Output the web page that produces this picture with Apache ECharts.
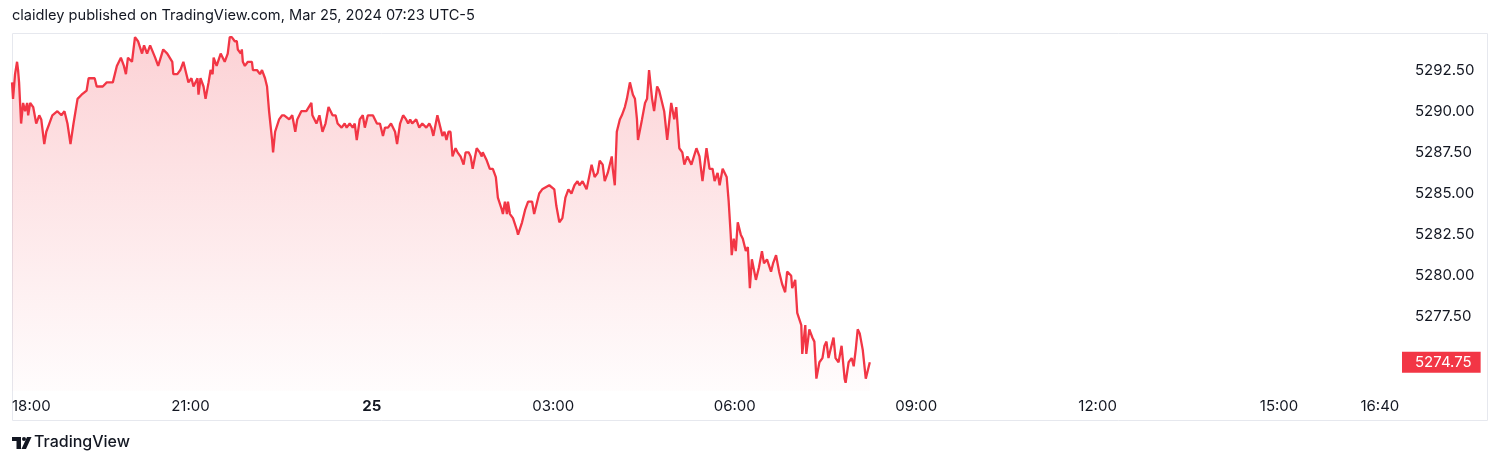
<!DOCTYPE html>
<html>
<head>
<meta charset="utf-8">
<script src="https://cdn.jsdelivr.net/npm/echarts@6/dist/echarts.min.js"></script>
<style>
html,body{margin:0;padding:0;background:#fff;}
#chart{width:1500px;height:465px;}
</style>
</head>
<body>
<div id="chart"></div>
<script>
// minutes after 18:00 (session open, UTC-5)
const minutes = [
  3,4,6,8,9,10,11,12,14,16,
  18,19,21,24,25,27,30,32,35,37,
  40,43,48,52,55,58,61,64,68,72,
  77,79,85,87,90,93,97,103,107,111,
  114,116,118,122,125,128,132,134,137,140,
  145,148,153,157,162,163,167,170,173,176,
  178,181,183,187,188,190,193,195,198,200,
  202,203,206,210,214,217,219,221,224,226,
  227,230,231,232,234,237,241,242,246,249,
  251,254,256,258,261,262,264,268,271,273,
  278,281,284,286,290,295,300,301,305,308,
  311,314,317,321,324,326,330,333,335,338,
  341,343,345,348,351,353,356,361,365,368,
  370,371,373,376,379,383,385,388,391,394,
  396,398,400,404,407,410,414,417,419,421,
  425,428,430,432,434,436,438,440,443,445,
  448,451,453,456,458,460,464,467,469,470,
  474,477,480,483,485,489,490,492,494,495,
  497,500,504,505,509,512,515,519,521,524,
  526,529,536,541,543,546,549,552,555,558,
  561,564,566,569,573,578,581,584,586,589,
  591,594,598,599,601,603,606,608,611,613,
  616,619,621,623,624,628,631,633,635,638,
  640,643,645,647,650,653,657,660,662,665,
  668,670,673,677,682,685,688,692,695,698,
  700,703,705,708,712,714,716,717,719,721,
  723,726,728,731,733,735,737,741,744,747,
  749,752,756,758,761,764,767,770,772,776,
  777,780,782,786,787,790,791,794,797,799,
  801,802,804,807,809,811,813,815,818,820,
  823,826,829,830,833,836,838,840,842,844,
  847,850,851,854
];
const prices = [
  5291.75,5290.75,5292.25,5293,5292.5,5291.75,5290.5,5289.25,5290.5,5290,
  5290.5,5289.75,5290.5,5290.25,5290.25,5289.25,5289.75,5289.5,5288,5288.75,
  5289.25,5289.75,5290,5289.75,5290,5289.25,5288,5289.25,5290.75,5291,
  5291.25,5292,5292,5291.5,5291.5,5291.5,5291.75,5291.75,5292.75,5293.25,
  5292.75,5292.25,5293.25,5293,5294.5,5294.25,5293.5,5294,5293.5,5294,
  5293.25,5292.75,5293.75,5293.5,5293,5292.25,5292.25,5292.5,5293,5292.25,
  5291.75,5292,5291.5,5292,5291,5292,5291.5,5290.75,5291.75,5292.5,
  5292.25,5293.25,5292.75,5293.5,5293,5293.5,5294.5,5294.5,5294.25,5294.25,
  5293.75,5293.5,5293.75,5293,5292.75,5293,5293,5292.5,5292.5,5292.25,
  5292.5,5292,5291.5,5290,5288.25,5287.5,5288.75,5289.5,5289.75,5289.75,
  5289.5,5289.75,5288.75,5289.5,5290,5290,5290.5,5289.75,5289.25,5289.75,
  5288.75,5289.25,5290.25,5289.75,5289.75,5289.25,5289,5289.25,5289,5289.25,
  5289,5289.25,5288.25,5289.5,5289.75,5289,5289.75,5289.75,5289.25,5289.25,
  5288.75,5288.5,5289,5289,5289.25,5288.75,5288,5289.25,5289.75,5289.5,
  5289.25,5289.5,5289.25,5289.5,5289,5289.25,5289,5289.25,5289,5288.5,
  5289.75,5289,5288.5,5288.75,5288.25,5288.75,5288.75,5287.25,5287.75,5287.5,
  5287.25,5286.75,5287.5,5287.5,5287.25,5286.5,5287.75,5287.5,5287.25,5287.5,
  5287,5286.5,5286.5,5286,5284.75,5284,5283.75,5284.5,5283.75,5284.5,
  5283.75,5283.5,5282.75,5282.5,5283.25,5284,5284.5,5284.5,5283.75,5284.5,
  5285,5285.25,5285.5,5285.25,5284.25,5283.25,5283.5,5284.75,5285.25,5285,
  5285.5,5285.75,5285.5,5285.75,5285.25,5286.75,5286,5286.25,5287,5286.75,
  5285.75,5286.25,5287.25,5286.5,5285.5,5288.75,5289.5,5289.75,5290.25,5290.75,
  5291.75,5291,5290.75,5289.5,5288.25,5289.5,5290.5,5290.75,5292.5,5290.75,
  5290,5291.5,5291.25,5290.75,5290,5288.25,5290.5,5289.5,5290.25,5287.75,
  5287.5,5286.75,5287.25,5286.75,5287.75,5287.25,5285.75,5287.75,5286.5,5286.5,
  5285.75,5286.25,5285.5,5286.5,5286,5284.5,5282.5,5281.25,5282.25,5281.5,
  5283.25,5282.5,5282.25,5281.5,5281.75,5279.25,5281,5279.75,5280.5,5281.5,
  5280.75,5281,5280.25,5280.75,5281.25,5280.25,5279.5,5279,5280.25,5280,
  5279.25,5279.75,5277.75,5277,5275.25,5277,5275.25,5276.75,5276.25,5276,
  5273.75,5273.75,5274.75,5275,5275.75,5276,5275,5275.5,5276.25,5275,
  5274.75,5275.75,5273.75,5273.5,5274.75,5275,5274.5,5275.5,5276.75,5276.5,
  5275.5,5273.75,5273.75,5274.75
];
// time-axis ticks (minutes after 18:00) and their labels
const timeTicks = [0,180,360,540,720,900,1080,1260,1360];
const timeLabels = ['18:00','21:00','25','03:00','06:00','09:00','12:00','15:00','16:40'];
// price-axis ticks
const priceTicks = [5277.5,5280,5282.5,5285,5287.5,5290,5292.5];

const X_MAX = 1380;
const lastPrice = prices[prices.length - 1];
const seriesData = minutes.map((m, i) => [m, prices[i]]);
const RED = '#f23645';
const TXT = '#131722';
const FONT = 'Inter, "Noto Sans", sans-serif';

const chart = echarts.init(document.getElementById('chart'), null, {renderer: 'canvas'});
chart.setOption({
  animation: false,
  backgroundColor: '#ffffff',
  textStyle: {fontFamily: FONT},
  grid: {left: 9, right: 100, top: 33, bottom: 74, containLabel: false},
  xAxis: {
    type: 'value',
    min: 0,
    max: X_MAX,
    axisLine: {show: false},
    axisTick: {show: false},
    splitLine: {show: false},
    axisLabel: {
      customValues: timeTicks,
      alignMinLabel: 'left',
      margin: 8,
      color: TXT,
      fontSize: 15,
      fontFamily: FONT,
      formatter: function (v) {
        const i = timeTicks.indexOf(v);
        const t = i >= 0 ? timeLabels[i] : '';
        if (t === '25') return '{b|25}';
        if (i === 0) return '{f|' + t + '}';
        return t;
      },
      rich: {
        b: {fontWeight: 'bold', fontSize: 15, color: TXT, fontFamily: FONT},
        f: {fontSize: 15, color: TXT, fontFamily: FONT, padding: [0, 0, 0, 3]}
      }
    }
  },
  yAxis: {
    type: 'value',
    position: 'right',
    min: 5273,
    max: 5294.75,
    scale: true,
    axisLine: {show: false},
    axisTick: {show: false},
    splitLine: {show: false},
    axisLabel: {
      customValues: priceTicks,
      margin: 15,
      color: TXT,
      fontSize: 15,
      fontFamily: FONT,
      padding: [3, 0, 0, 0],
      formatter: v => v.toFixed(2)
    }
  },
  series: [{
    type: 'line',
    data: seriesData,
    showSymbol: false,
    symbol: 'none',
    smooth: false,
    lineStyle: {color: RED, width: 2.3},
    areaStyle: {
      color: new echarts.graphic.LinearGradient(0, 0, 0, 1, [
        {offset: 0, color: 'rgba(242,54,69,0.32)'},
        {offset: 1, color: 'rgba(242,54,69,0.02)'}
      ])
    }
  }, {
    // last-price tag on the price scale
    type: 'scatter',
    data: [[X_MAX, lastPrice]],
    symbolSize: 0,
    silent: true,
    clip: false,
    itemStyle: {opacity: 1, color: RED},
    label: {
      show: true,
      opacity: 1,
      position: 'right',
      distance: 2,
      formatter: () => lastPrice.toFixed(2),
      backgroundColor: RED,
      color: '#ffffff',
      fontSize: 15,
      fontFamily: FONT,
      lineHeight: 15,
      padding: [3, 9, 3, 13]
    }
  }],
  graphic: [
    {
      type: 'rect', silent: true, z: -1,
      shape: {x: 12.5, y: 33.5, width: 1475, height: 387},
      style: {fill: 'none', stroke: '#e6e8ee', lineWidth: 1}
    },
    {
      type: 'text', left: 12, top: 8,
      style: {text: 'claidley published on TradingView.com, Mar 25, 2024 07:23 UTC-5',
              fill: TXT, font: '14.6px ' + FONT}
    },
    {
      type: 'group', left: 12, top: 437,
      children: [
        {type: 'rect', shape: {x: 0, y: 0, width: 9, height: 4}, style: {fill: TXT}},
        {type: 'rect', shape: {x: 4.5, y: 0, width: 4.5, height: 12}, style: {fill: TXT}},
        {type: 'circle', shape: {cx: 12, cy: 2, r: 2}, style: {fill: TXT}},
        {type: 'polygon', shape: {points: [[15, 0], [19.5, 0], [14, 12], [9.5, 12]]}, style: {fill: TXT}}
      ]
    },
    {
      type: 'text', left: 34, top: 434,
      style: {text: 'TradingView', fill: TXT, font: '500 16px ' + FONT}
    }
  ]
});
</script>
</body>
</html>
